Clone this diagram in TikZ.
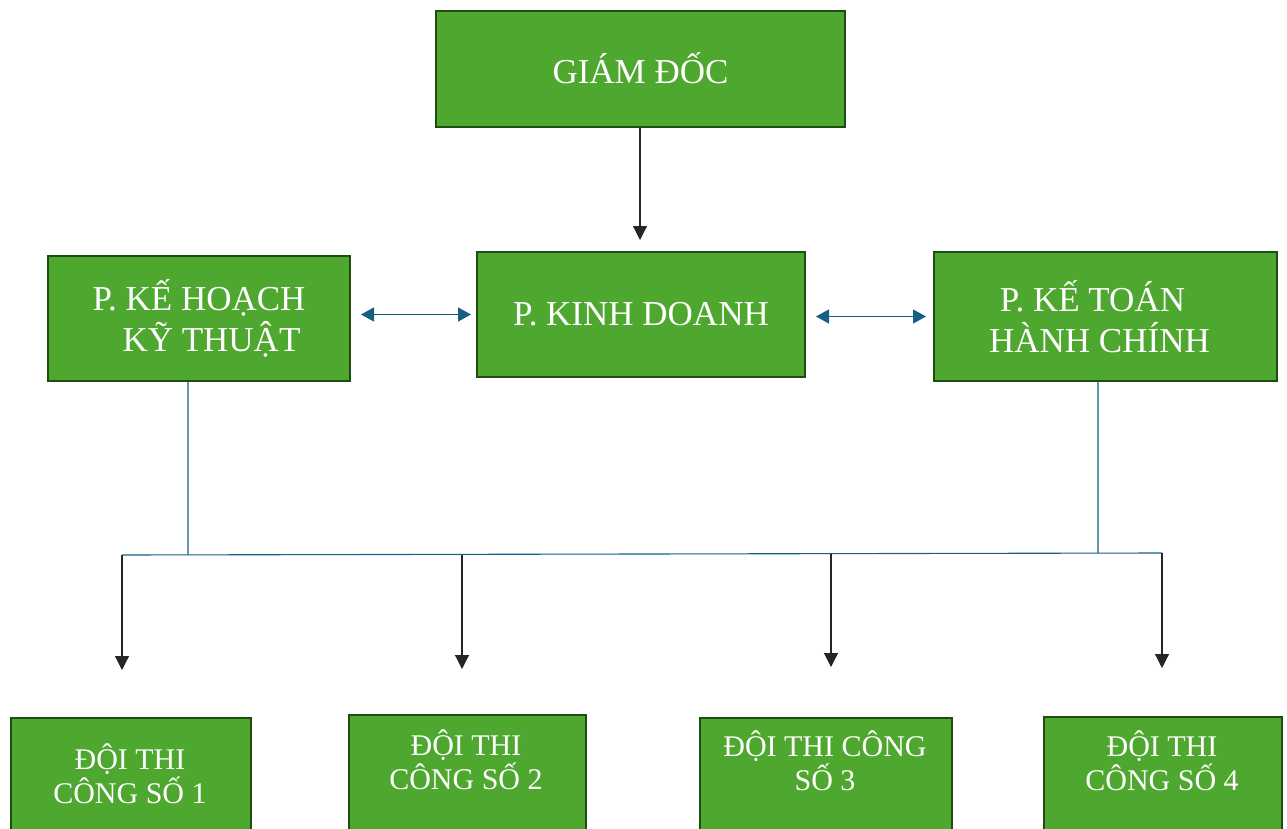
\documentclass[tikz,border=0pt]{standalone}
\usepackage{fontspec}
\setmainfont{Liberation Serif}
\usetikzlibrary{arrows.meta,calc}
\definecolor{boxfill}{HTML}{4EA72E}
\definecolor{boxline}{HTML}{1E4D10}
\definecolor{linkblue}{HTML}{156082}
\tikzset{
  box/.style={rectangle, draw=boxline, fill=boxfill, line width=2bp, inner sep=0pt, text=white, align=center},
  bigtxt/.style={font=\fontsize{35bp}{41bp}\selectfont},
  smalltxt/.style={text=white, align=center, inner sep=0pt, font=\fontsize{30bp}{34bp}\selectfont},
  arr/.style={draw=black!85, line width=1.2bp, -{Triangle[width=14bp,length=14bp]}},
  dbl/.style={draw=linkblue, line width=1.2bp, {Triangle[width=14bp,length=13bp]}-{Triangle[width=14bp,length=13bp]}, color=linkblue},
  tree/.style={draw=linkblue, line width=1.1bp}
}
\begin{document}
\begin{tikzpicture}[x=1bp,y=-1bp]
\useasboundingbox (0,0) rectangle (1287,829);
\clip (0,0) rectangle (1287,829);

% top boxes
\node[box, bigtxt, minimum width=409bp, minimum height=116bp] (gd) at (640.5,69) {\raisebox{2bp}{GIÁM ĐỐC}};
\node[box, bigtxt, minimum width=328bp, minimum height=125bp] (kd) at (641,314.5) {P. KINH DOANH};
\node[box, bigtxt, minimum width=302bp, minimum height=125bp] (kh) at (199,318.5) {P. KẾ HOẠCH\\\hspace*{25bp}KỸ THUẬT};
\node[box, bigtxt, minimum width=343bp, minimum height=129bp] (kt) at (1105.5,316.5) {P. KẾ TOÁN\hspace*{26bp}\\HÀNH CHÍNH\hspace*{12bp}};

% bottom boxes (cut by the page edge)
\node[box, minimum width=240bp, minimum height=140bp, anchor=north west] (d1) at (10,717) {};
\node[box, minimum width=237bp, minimum height=140bp, anchor=north west] (d2) at (348,714) {};
\node[box, minimum width=252bp, minimum height=140bp, anchor=north west] (d3) at (699,717) {};
\node[box, minimum width=238bp, minimum height=140bp, anchor=north west] (d4) at (1043,716) {};
\node[smalltxt] (t1) at (130,774) {ĐỘI THI\\CÔNG SỐ 1};
\node[smalltxt] (t2) at (466,760) {ĐỘI THI\\CÔNG SỐ 2};
\node[smalltxt] (t3) at (825,761) {ĐỘI THI CÔNG\\SỐ 3};
\node[smalltxt] (t4) at (1162,761) {ĐỘI THI\\CÔNG SỐ 4};

% connectors
\coordinate (gdend) at (640,240);
\draw[arr] (gd.south -| gdend) -- (gdend);

\draw[dbl, shorten <=10bp, shorten >=5bp] (kd.west -| kh.east) -- (kd.west);
\draw[dbl, shorten <=10bp, shorten >=7bp] (kt.west -| kd.east) -- (kt.west);

\coordinate (jl) at (188,554.6);
\coordinate (jr) at (1098,553.4);
\coordinate (b1) at (122,555);
\coordinate (b2) at (462,554.5);
\coordinate (b3) at (831,553.8);
\coordinate (b4) at (1162,553);
\coordinate (e1) at (122,670);
\coordinate (e2) at (462,669);
\coordinate (e3) at (831,667);
\coordinate (e4) at (1162,668);

\draw[tree] ([xshift=-11bp]kh.south) -- (jl);
\draw[tree] ([xshift=-7.5bp]kt.south) -- (jr);
\draw[tree] (b1) -- (b4);

\draw[arr] (b1) -- (e1);
\draw[arr] (b2) -- (e2);
\draw[arr] (b3) -- (e3);
\draw[arr] (b4) -- (e4);
\end{tikzpicture}
\end{document}
